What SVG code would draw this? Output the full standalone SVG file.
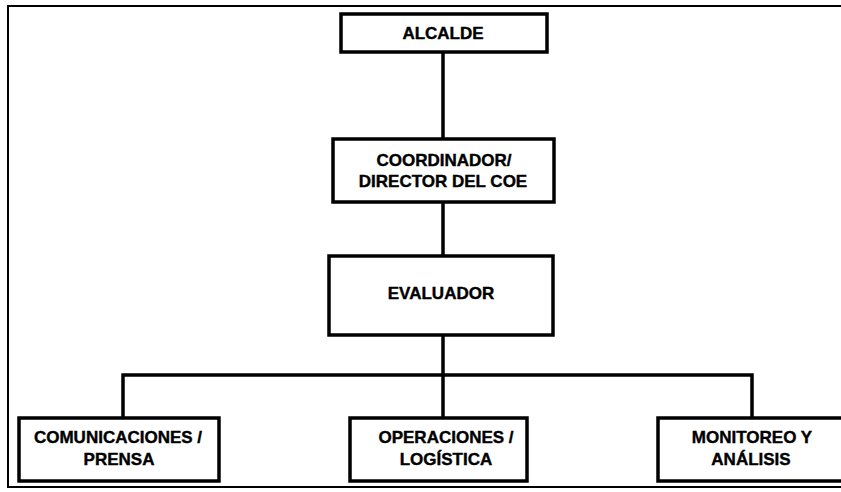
<svg xmlns="http://www.w3.org/2000/svg" width="841" height="492" viewBox="0 0 841 492">
<style>
.box{fill:#fff;stroke:#000;stroke-width:3.5}
.t{font-family:"Liberation Sans",Arial,sans-serif;font-weight:bold;font-size:17px;text-anchor:middle;fill:#000;stroke:#000;stroke-width:0.4}
.c{fill:none;stroke:#000;stroke-width:3.5}
</style>
<rect width="841" height="492" fill="#fff"/>
<path d="M841,6 H8 V487 H841" fill="none" stroke="#000" stroke-width="2"/>
<g id="connectors">
<path class="c" d="M443,52 V139"/>
<path class="c" d="M443,202 V256"/>
<path class="c" d="M443,335 V375"/>
<path class="c" d="M123,418 V375 H752 V418"/>
<path class="c" d="M443,375 V418"/>
</g>
<g id="alcalde">
<rect class="box" x="341" y="14" width="206" height="38"/>
<text class="t" x="443" y="39">ALCALDE</text>
</g>
<g id="coordinador">
<rect class="box" x="333" y="139" width="221" height="63"/>
<text class="t" x="444" y="166">COORDINADOR/</text>
<text class="t" x="443" y="187">DIRECTOR DEL COE</text>
</g>
<g id="evaluador">
<rect class="box" x="329" y="256" width="224" height="79"/>
<text class="t" x="441" y="299">EVALUADOR</text>
</g>
<g id="comunicaciones">
<rect class="box" x="19" y="418" width="200" height="63"/>
<text class="t" x="118" y="443">COMUNICACIONES /</text>
<text class="t" x="119" y="465">PRENSA</text>
</g>
<g id="operaciones">
<rect class="box" x="350" y="418" width="177" height="63"/>
<text class="t" x="446" y="443">OPERACIONES /</text>
<text class="t" x="446" y="465">LOGÍSTICA</text>
</g>
<g id="monitoreo">
<rect class="box" x="658" y="418" width="190" height="63"/>
<text class="t" x="752" y="443">MONITOREO Y</text>
<text class="t" x="751" y="465">ANÁLISIS</text>
</g>
</svg>
